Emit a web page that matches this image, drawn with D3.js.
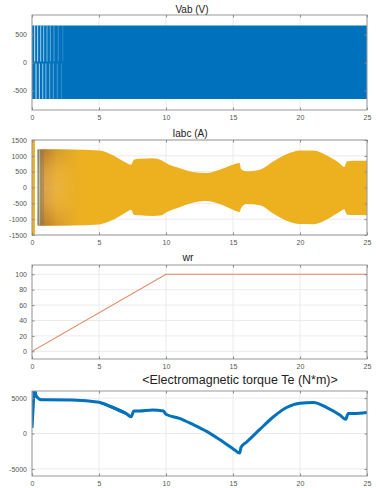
<!DOCTYPE html>
<html>
<head>
<meta charset="utf-8">
<script src="https://cdn.jsdelivr.net/npm/d3@7"></script>
<style>
  body { margin: 0; background: #fff; }
  svg { display: block; font-family: "Liberation Sans", Arial, sans-serif; }
</style>
</head>
<body>
<svg id="chart" width="376" height="488"></svg>
<script>
// ---- data ----
const xTicks = [0, 5, 10, 15, 20, 25];

// Vab (V): PWM band, white gaps during the first seconds
const vabT = [0, 25];
const vabHi = [660, 660];
const vabLo = [-655, -655];
const vabGapsTop = [0.2, 0.42, 0.65, 0.87, 1.12, 1.37, 1.64, 1.96, 2.3];
const vabGapsBot = [0.3, 0.55, 0.8, 1.04, 1.32, 1.59, 1.89, 2.2];
const vabTicks = [-500, 0, 500];

// Iabc (A): envelope of the three phase currents
const iabcT = [0.42, 1, 3, 5, 6, 7, 7.4, 7.6, 8, 9, 9.7, 10, 11, 12, 13, 14, 15, 15.5, 15.6, 16, 17, 18, 19, 20, 21, 22, 23, 23.3, 23.5, 24, 25];
const iabcTop = [1200, 1210, 1200, 1170, 1030, 790, 720, 875, 906, 927, 854, 771, 615, 490, 458, 562, 720, 770, 583, 510, 562, 823, 1052, 1167, 1167, 1010, 750, 646, 823, 844, 844];
const iabcBot = [-1200, -1210, -1200, -1165, -1030, -790, -700, -860, -880, -900, -875, -790, -620, -480, -427, -520, -700, -775, -650, -520, -560, -820, -1050, -1156, -1160, -1010, -760, -690, -850, -870, -875];
const iabcSpikeT = [0, 0.22];
const iabcStart = [
  { t: 0.46, c: "#3f7fbf" }, { t: 0.52, c: "#6f9a8a" }, { t: 0.58, c: "#f6e3b8" },
  { t: 0.66, c: "#8a6a40" }, { t: 0.74, c: "#5f86a8" }, { t: 0.84, c: "#a8742e" }
];
const iabcTicks = [-1500, -1000, -500, 0, 500, 1000, 1500];

// wr
const wrT = [0, 10, 25];
const wrV = [0, 100, 100];
const wrTicks = [0, 20, 40, 60, 80, 100];

// Electromagnetic torque Te (N*m)
const teT = [0, 0.1, 0.18, 0.3, 0.45, 0.6, 0.8, 1, 3, 5, 6, 7, 7.4, 7.6, 8, 9, 9.8, 10, 11, 12, 13, 14, 15, 15.5, 15.6, 16, 17, 18, 19, 20, 21, 22, 23, 23.4, 23.6, 24, 25];
const teV = [800, 4200, 6300, 5400, 5000, 4800, 4750, 4750, 4720, 4400, 3700, 2850, 2380, 3190, 3190, 3330, 3190, 2715, 2140, 1285, 333, -857, -2140, -2760, -1950, -1240, 570, 2330, 3665, 4285, 4380, 3665, 2570, 2000, 2810, 2810, 2950];
const teBandT = [5, 6, 6.5, 7, 7.4];
const teBandHi = [4500, 3950, 3500, 3050, 2500];
const teBandLo = [4250, 3450, 3000, 2650, 2300];
const teTicks = [-5000, 0, 5000];

// ---- layout ----
const left = 32, right = 367;
const svg = d3.select("#chart");
const defs = svg.append("defs");
const x = d3.scaleLinear().domain([0, 25]).range([left, right]);

function panel(cfg) {
  const y = d3.scaleLinear().domain(cfg.domain).range([cfg.bottom, cfg.top]);
  const g = svg.append("g");
  const id = "clip" + cfg.top;
  defs.append("clipPath").attr("id", id)
    .append("rect").attr("x", left).attr("y", cfg.top)
    .attr("width", right - left).attr("height", cfg.bottom - cfg.top);

  // grid
  g.selectAll("line.gx").data(xTicks).join("line")
    .attr("x1", d => x(d)).attr("x2", d => x(d))
    .attr("y1", cfg.top).attr("y2", cfg.bottom)
    .attr("stroke", "#e6e6e6").attr("stroke-width", 0.8);
  g.selectAll("line.gy").data(cfg.ticks).join("line")
    .attr("y1", d => y(d)).attr("y2", d => y(d))
    .attr("x1", left).attr("x2", right)
    .attr("stroke", "#e6e6e6").attr("stroke-width", 0.8);

  const plot = g.append("g").attr("clip-path", `url(#${id})`);
  cfg.draw(plot, y);

  // box + inward ticks
  g.append("rect").attr("x", left).attr("y", cfg.top)
    .attr("width", right - left).attr("height", cfg.bottom - cfg.top)
    .attr("fill", "none").attr("stroke", "#9a9a9a").attr("stroke-width", 1);

  const axB = d3.axisBottom(x).tickValues(xTicks).tickSize(-2.5).tickPadding(5).tickFormat(d => String(d));
  const axT = d3.axisTop(x).tickValues(xTicks).tickSize(-2.5).tickFormat("");
  const axL = d3.axisLeft(y).tickValues(cfg.ticks).tickSize(-2.5).tickPadding(5).tickFormat(d => String(d));
  const axR = d3.axisRight(y).tickValues(cfg.ticks).tickSize(-2.5).tickFormat("");
  [[axB, `translate(0,${cfg.bottom})`], [axT, `translate(0,${cfg.top})`],
   [axL, `translate(${left},0)`], [axR, `translate(${right},0)`]].forEach(([ax, tr]) => {
    const a = g.append("g").attr("transform", tr).call(ax);
    a.select(".domain").remove();
    a.selectAll("line").attr("stroke", "#8a8a8a");
    a.selectAll("text").attr("fill", "#555").attr("font-size", 7).attr("font-family", "Liberation Sans, Arial, sans-serif");
  });

  svg.append("text").attr("x", cfg.titleX).attr("y", cfg.titleY)
    .attr("text-anchor", "middle").attr("font-size", cfg.titleSize)
    .attr("fill", "#222").text(cfg.title);
}

// Vab
panel({
  top: 15, bottom: 110, domain: [-850, 850], ticks: vabTicks,
  title: "Vab (V)", titleX: 192, titleY: 13, titleSize: 10,
  draw: (p, y) => {
    const band = vabT.map((t, i) => ({ t, hi: vabHi[i], lo: vabLo[i] }));
    p.append("path").datum(band)
      .attr("d", d3.area().x(d => x(d.t)).y0(d => y(d.lo)).y1(d => y(d.hi)))
      .attr("fill", "#0072BD");
    p.selectAll("line.gt").data(vabGapsTop).join("line")
      .attr("x1", d => x(d)).attr("x2", d => x(d))
      .attr("y1", y(vabHi[0])).attr("y2", y(0) - 1)
      .attr("stroke", "#fff").attr("stroke-width", 0.9)
      .attr("opacity", (d, i) => 0.9 - i * 0.09);
    p.selectAll("line.gb").data(vabGapsBot).join("line")
      .attr("x1", d => x(d)).attr("x2", d => x(d))
      .attr("y1", y(0) + 1).attr("y2", y(vabLo[0]))
      .attr("stroke", "#fff").attr("stroke-width", 0.9)
      .attr("opacity", (d, i) => 0.9 - i * 0.1);
  }
});

// Iabc
panel({
  top: 140, bottom: 235, domain: [-1500, 1500], ticks: iabcTicks,
  title: "Iabc (A)", titleX: 190, titleY: 137, titleSize: 10,
  draw: (p, y) => {
    const grad = defs.append("linearGradient").attr("id", "igrad")
      .attr("gradientUnits", "userSpaceOnUse")
      .attr("x1", x(0.42)).attr("x2", x(4)).attr("y1", 0).attr("y2", 0);
    [[0, "#b47a30"], [0.15, "#cf8f2e"], [0.4, "#e7aa2a"], [1, "#EDB120"]]
      .forEach(([o, c]) => grad.append("stop").attr("offset", o).attr("stop-color", c));
    const vgrad = defs.append("linearGradient").attr("id", "vgrad")
      .attr("x1", 0).attr("x2", 0).attr("y1", 0).attr("y2", 1);
    [[0, "#8a5a2a", 0.35], [0.3, "#f3c870", 0.35], [0.5, "#f6d58a", 0.4], [0.7, "#f3c870", 0.35], [1, "#8a5a2a", 0.35]]
      .forEach(([o, c, a]) => vgrad.append("stop").attr("offset", o).attr("stop-color", c).attr("stop-opacity", a));
    const mask = defs.append("linearGradient").attr("id", "hfade")
      .attr("gradientUnits", "userSpaceOnUse")
      .attr("x1", x(0.42)).attr("x2", x(3.5)).attr("y1", 0).attr("y2", 0);
    mask.append("stop").attr("offset", 0).attr("stop-color", "#fff");
    mask.append("stop").attr("offset", 1).attr("stop-color", "#000");
    defs.append("mask").attr("id", "fademask")
      .append("rect").attr("x", left).attr("y", 140).attr("width", right - left).attr("height", 95)
      .attr("fill", "url(#hfade)");

    const env = iabcT.map((t, i) => ({ t, hi: iabcTop[i], lo: iabcBot[i] }));
    const area = d3.area().x(d => x(d.t)).y0(d => y(d.lo)).y1(d => y(d.hi)).curve(d3.curveMonotoneX);
    p.append("path").datum(env).attr("d", area).attr("fill", "url(#igrad)");
    p.append("path").datum(env.filter(d => d.t <= 5)).attr("d", area)
      .attr("fill", "url(#vgrad)").attr("mask", "url(#fademask)");
    p.append("path").datum(iabcSpikeT)
      .attr("d", d3.area().x(d => x(d)).y0(y(-1500)).y1(y(1500)))
      .attr("fill", "#EDB120");
    p.selectAll("line.tr").data(iabcStart).join("line")
      .attr("x1", d => x(d.t)).attr("x2", d => x(d.t))
      .attr("y1", y(1180)).attr("y2", y(-1180))
      .attr("stroke", d => d.c).attr("stroke-width", 0.8).attr("opacity", 0.85);
  }
});

// wr
panel({
  top: 265, bottom: 359, domain: [-10, 112], ticks: wrTicks,
  title: "wr", titleX: 188, titleY: 261, titleSize: 10.5,
  draw: (p, y) => {
    p.append("path").datum(wrT.map((t, i) => [t, wrV[i]]))
      .attr("d", d3.line().x(d => x(d[0])).y(d => y(d[1])))
      .attr("fill", "none").attr("stroke", "#e08a62").attr("stroke-width", 1.1);
  }
});

// Te
panel({
  top: 391, bottom: 476, domain: [-6000, 6000], ticks: teTicks,
  title: "<Electromagnetic torque Te (N*m)>", titleX: 240, titleY: 384, titleSize: 12.5,
  draw: (p, y) => {
    p.append("path").datum(teBandT.map((t, i) => ({ t, hi: teBandHi[i], lo: teBandLo[i] })))
      .attr("d", d3.area().x(d => x(d.t)).y0(d => y(d.lo)).y1(d => y(d.hi)).curve(d3.curveMonotoneX))
      .attr("fill", "#0072BD");
    p.append("path").datum(teT.map((t, i) => [t, teV[i]]))
      .attr("d", d3.line().x(d => x(d[0])).y(d => y(d[1])).curve(d3.curveMonotoneX))
      .attr("fill", "none").attr("stroke", "#0072BD").attr("stroke-width", 3)
      .attr("stroke-linejoin", "round");
  }
});
</script>
</body>
</html>
